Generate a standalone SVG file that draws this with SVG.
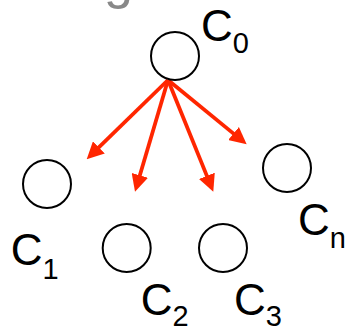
<svg xmlns="http://www.w3.org/2000/svg" width="349" height="327" viewBox="0 0 349 327">
<style>
.node{fill:#fff;stroke:#000;stroke-width:2}
.lbl{font-family:"Liberation Sans",Arial,sans-serif;font-size:44px;fill:#000}
.sub{font-size:29px}
.edge{stroke:#ff2600;stroke-width:3.8;fill:none;marker-end:url(#ah)}
</style>
<defs>
<marker id="ah" markerUnits="userSpaceOnUse" markerWidth="17" markerHeight="17" viewBox="0 0 17 17" refX="4" refY="8.5" orient="auto">
<path d="M0,0 L17,8.5 L0,17 z" fill="#ff2600"/>
</marker>
</defs>
<rect width="349" height="327" fill="#fff"/>
<text x="104" y="-2" font-family="Liberation Sans,Arial,sans-serif" font-size="52" fill="#888">g</text>
<g id="edges">
<line class="edge" x1="168" y1="80" x2="96" y2="150.2"/>
<line class="edge" x1="168" y1="80" x2="138.7" y2="179.2"/>
<line class="edge" x1="168" y1="80" x2="208.4" y2="179.6"/>
<line class="edge" x1="168" y1="80" x2="236.6" y2="136.1"/>
</g>
<g id="c0"><circle class="node" cx="175" cy="56" r="24"/><text class="lbl" x="201" y="40.5">C<tspan class="sub" dy="12.5">0</tspan></text></g>
<g id="c1"><circle class="node" cx="47" cy="184" r="24"/><text class="lbl" x="10.7" y="264.5">C<tspan class="sub" dy="14.5">1</tspan></text></g>
<g id="c2"><circle class="node" cx="126.7" cy="248" r="24"/><text class="lbl" x="140.7" y="314.5">C<tspan class="sub" dy="11.5">2</tspan></text></g>
<g id="c3"><circle class="node" cx="223" cy="248" r="24"/><text class="lbl" x="234" y="315">C<tspan class="sub" dy="11">3</tspan></text></g>
<g id="cn"><circle class="node" cx="287" cy="168" r="24"/><text class="lbl" x="298" y="234.5">C<tspan class="sub" dy="13.5">n</tspan></text></g>
</svg>
